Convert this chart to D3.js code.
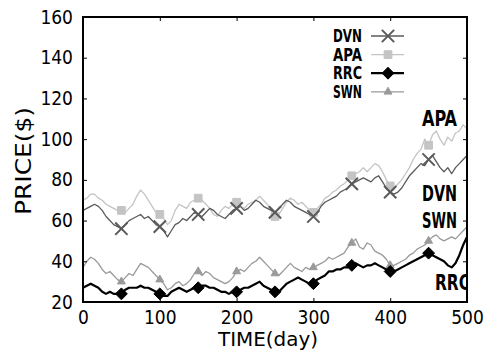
<!DOCTYPE html>
<html>
<head>
<meta charset="utf-8">
<script src="https://cdn.jsdelivr.net/npm/d3@7"></script>
<style>
  body { margin: 0; background: #fff; }
  svg text { font-family: "Liberation Sans Narrow", "DejaVu Sans Condensed", "Liberation Sans", sans-serif; }
</style>
</head>
<body>
<div id="PricePlot"></div>
<script>
// sampled every 5 days, day 0..500
let days = d3.range(0, 501, 5);
let markerDays = [50, 100, 150, 200, 250, 300, 350, 400, 450];

let dvn = [65, 66, 67, 68, 67, 65, 62, 60, 58, 57, 56, 58, 60, 61, 62, 63, 61, 62, 60, 58,
  57, 55, 52, 55, 58, 59, 61, 60, 62, 64, 63, 62, 64, 66, 65, 63, 62, 61, 63, 65,
  66, 67, 65, 66, 68, 70, 69, 67, 66, 65, 64, 66, 68, 70, 69, 67, 66, 65, 64, 63,
  62, 64, 67, 69, 70, 71, 72, 74, 75, 76, 78, 79, 80, 81, 80, 79, 81, 82, 79, 76,
  74, 73, 74, 76, 79, 82, 84, 86, 88, 87, 90, 92, 89, 86, 84, 86, 83, 86, 88, 90, 92];
let apa = [70, 71, 73, 73, 71, 70, 68, 67, 66, 65, 65, 64, 66, 68, 72, 75, 73, 70, 67, 64,
  63, 61, 58, 60, 65, 68, 67, 66, 69, 70, 71, 70, 68, 66, 63, 62, 65, 67, 66, 68,
  69, 67, 66, 68, 69, 70, 72, 70, 68, 65, 62, 63, 66, 69, 71, 70, 68, 69, 67, 65,
  64, 66, 68, 71, 72, 74, 75, 77, 78, 80, 82, 83, 84, 86, 84, 86, 88, 87, 84, 80,
  77, 76, 78, 80, 83, 86, 90, 93, 95, 100, 97, 102, 104, 100, 97, 101, 99, 103, 104, 107, 105];
let rrc = [27, 28, 29, 28, 27, 25, 24, 25, 24, 24, 24, 26, 27, 27, 27, 28, 27, 27, 26, 25,
  24, 23, 23, 25, 26, 27, 26, 25, 26, 27, 27, 28, 28, 27, 27, 26, 25, 25, 24, 25,
  25, 26, 27, 27, 28, 29, 30, 28, 27, 26, 25, 25, 27, 29, 30, 31, 32, 31, 30, 29,
  29, 31, 32, 33, 35, 35, 36, 36, 37, 37, 38, 39, 38, 37, 38, 38, 39, 38, 37, 36,
  35, 35, 36, 37, 38, 39, 40, 41, 42, 43, 44, 43, 42, 41, 40, 38, 37, 39, 43, 48, 52];
let swn = [37, 40, 42, 41, 39, 36, 34, 35, 33, 31, 30, 32, 34, 33, 36, 39, 38, 37, 35, 33,
  31, 29, 26, 27, 29, 30, 28, 29, 31, 34, 35, 33, 35, 34, 32, 31, 30, 29, 30, 32,
  35, 36, 35, 37, 39, 40, 42, 40, 38, 36, 34, 33, 35, 37, 39, 37, 36, 35, 37, 36,
  37, 38, 39, 40, 42, 41, 42, 43, 44, 47, 49, 51, 47, 46, 49, 48, 45, 44, 43, 41,
  38, 38, 39, 40, 41, 43, 44, 46, 47, 48, 50, 52, 53, 51, 50, 51, 52, 51, 53, 55, 57];

let xTicks = [0, 100, 200, 300, 400, 500];
let yTicks = [20, 40, 60, 80, 100, 120, 140, 160];

let series = [
  { name: "DVN", values: dvn, color: "#5a5a5a", width: 1.3, marker: "cross" },
  { name: "APA", values: apa, color: "#c4c4c4", width: 1.3, marker: "square" },
  { name: "RRC", values: rrc, color: "#000", width: 2.2, marker: "diamond" },
  { name: "SWN", values: swn, color: "#9a9a9a", width: 1.3, marker: "triangle" }
];

// end-of-line annotations
let endLabels = [
  { text: "APA", x: 422, y: 126 },
  { text: "DVN", x: 422, y: 201 },
  { text: "SWN", x: 422, y: 228 },
  { text: "RRC", x: 435, y: 290 }
];

let width = 494, height = 352;
let plotLeft = 83, plotRight = 467, plotTop = 17, plotBottom = 302;

let x = d3.scaleLinear().domain([0, 500]).range([plotLeft, plotRight]);
let y = d3.scaleLinear().domain([20, 160]).range([plotBottom, plotTop]);

let svg = d3.select("#PricePlot").append("svg")
  .attr("width", width).attr("height", height);

svg.append("defs").append("clipPath").attr("id", "plotClip")
  .append("rect").attr("x", plotLeft).attr("y", plotTop)
  .attr("width", plotRight - plotLeft).attr("height", plotBottom - plotTop);

let symbolFor = m => {
  if (m === "cross") return d3.symbol().type(d3.symbolX).size(100);
  if (m === "square") return d3.symbol().type(d3.symbolSquare).size(60);
  if (m === "diamond") return d3.symbol().type(d3.symbolDiamond2).size(90);
  return d3.symbol().type(d3.symbolTriangle2).size(45);
};

let drawMarker = (g, s, cx, cy) => {
  let p = g.append("path")
    .attr("d", symbolFor(s.marker)())
    .attr("transform", "translate(" + cx + "," + cy + ")");
  if (s.marker === "cross") {
    p.attr("fill", "none").attr("stroke", s.color).attr("stroke-width", 2);
  } else {
    p.attr("fill", s.color).attr("stroke", s.color).attr("stroke-width", 1);
  }
};

let line = d3.line().x((d, i) => x(days[i])).y(d => y(d));

let plotG = svg.append("g").attr("clip-path", "url(#plotClip)");

// draw lighter series first, RRC on top
[series[1], series[3], series[0], series[2]].forEach(s => {
  plotG.append("path")
    .datum(s.values)
    .attr("fill", "none")
    .attr("stroke", s.color)
    .attr("stroke-width", s.width)
    .attr("stroke-linejoin", "round")
    .attr("d", line);
  markerDays.forEach(md => {
    drawMarker(plotG, s, x(md), y(s.values[days.indexOf(md)]));
  });
});

// axes, ticks pointing inward on all four sides
let tickFont = g => g.selectAll("text")
  .style("font-size", "19px").attr("fill", "#000");

svg.append("g")
  .attr("transform", "translate(" + plotLeft + ",0)")
  .call(d3.axisLeft(y).tickValues(yTicks).tickSize(-4).tickPadding(10))
  .call(tickFont)
  .call(g => g.select(".domain").remove());

svg.append("g")
  .attr("transform", "translate(0," + plotBottom + ")")
  .call(d3.axisBottom(x).tickValues(xTicks).tickSize(-4).tickPadding(9))
  .call(tickFont)
  .call(g => g.select(".domain").remove());

svg.append("g")
  .attr("transform", "translate(0," + plotTop + ")")
  .call(d3.axisTop(x).tickValues(xTicks).tickSize(-4).tickFormat(""))
  .call(g => g.select(".domain").remove());

svg.append("g")
  .attr("transform", "translate(" + plotRight + ",0)")
  .call(d3.axisRight(y).tickValues(yTicks).tickSize(-4).tickFormat(""))
  .call(g => g.select(".domain").remove());

svg.append("rect")
  .attr("x", plotLeft).attr("y", plotTop)
  .attr("width", plotRight - plotLeft).attr("height", plotBottom - plotTop)
  .attr("fill", "none").attr("stroke", "#000").attr("stroke-width", 2);

// axis titles
svg.append("text")
  .attr("x", 218).attr("y", 346)
  .attr("textLength", 100).attr("lengthAdjust", "spacingAndGlyphs")
  .style("font-size", "19px")
  .text("TIME(day)");

svg.append("text")
  .attr("transform", "translate(31,215) rotate(-90)")
  .attr("textLength", 108).attr("lengthAdjust", "spacingAndGlyphs")
  .style("font-size", "21px")
  .text("PRICE($)");

// legend
let legend = svg.append("g");
series.forEach((s, i) => {
  let ly = 36 + i * 18.6;
  legend.append("text")
    .attr("x", 333).attr("y", ly + 6)
    .attr("textLength", 29).attr("lengthAdjust", "spacingAndGlyphs")
    .style("font-size", "17px").style("font-weight", "bold")
    .text(s.name);
  legend.append("line")
    .attr("x1", 371).attr("x2", 404).attr("y1", ly).attr("y2", ly)
    .attr("stroke", s.color).attr("stroke-width", s.width);
  drawMarker(legend, s, 388, ly);
});

// end labels (RRC is cut by the frame)
let labelG = svg.append("g").attr("clip-path", "url(#plotClip)");
endLabels.forEach(l => {
  labelG.append("text")
    .attr("x", l.x).attr("y", l.y)
    .attr("textLength", 35).attr("lengthAdjust", "spacingAndGlyphs")
    .style("font-size", "22px").style("font-weight", "bold")
    .text(l.text);
});
</script>
</body>
</html>
